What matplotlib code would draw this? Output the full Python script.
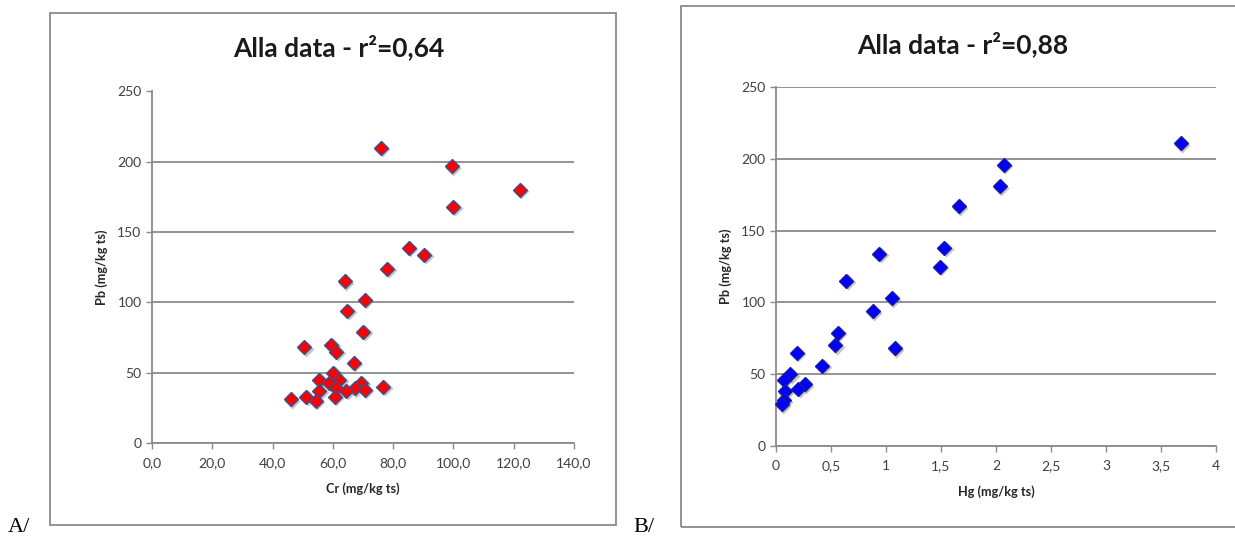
import matplotlib
matplotlib.use("Agg")
import matplotlib.pyplot as plt
import matplotlib.transforms as mtransforms
from matplotlib.patches import Rectangle
from matplotlib.ticker import FuncFormatter

# Cr mot Pb (mg/kg ts)
cr = [75.9, 99.5, 122.0, 100.0, 85.2, 90.4, 78.0, 64.0, 70.6, 64.8, 70.0,
      50.5, 59.5, 61.2, 66.9, 60.1, 55.5, 62.1, 58.8, 69.5, 67.3, 64.4,
      70.6, 61.0, 55.5, 76.7, 46.0, 51.1, 60.7, 54.4]
pb_a = [210, 197, 180, 168, 139, 134, 124, 115, 102, 94, 79,
        68, 70, 65, 57, 50, 45, 45, 43, 43, 39, 37,
        38, 39, 37, 40, 31, 33, 33, 30]

# Hg mot Pb (mg/kg ts)
hg = [3.68, 2.07, 2.035, 1.66, 1.53, 1.49, 0.94, 0.64, 1.05, 0.88, 1.08,
      0.56, 0.54, 0.42, 0.19, 0.13, 0.26, 0.07, 0.20, 0.08, 0.07, 0.05]
pb_b = [211, 196, 181, 167, 138, 125, 134, 115, 103, 94, 68,
        79, 70, 56, 65, 50, 43, 46, 40, 38, 32, 29]

titles = ["Alla data - r\u00b2=0,64", "Alla data - r\u00b2=0,88"]
xlabels = ["Cr (mg/kg ts)", "Hg (mg/kg ts)"]
ylabel = "Pb (mg/kg ts)"
yticks = [0, 50, 100, 150, 200, 250]
xticks_a = [0, 20, 40, 60, 80, 100, 120, 140]
xticks_b = [0, 0.5, 1, 1.5, 2, 2.5, 3, 3.5, 4]

plt.rcParams['font.family'] = ['Lato', 'DejaVu Sans']

fig = plt.figure(figsize=(12.35, 5.42), dpi=100)
W, H = 1235, 542

def px_rect(x0, y0, x1, y1):
    return Rectangle((x0 / W, 1 - y1 / H), (x1 - x0) / W, (y1 - y0) / H,
                     transform=fig.transFigure, fill=False,
                     edgecolor="#8a8a8a", linewidth=1.3)

# Kartramar
fig.patches.append(px_rect(50, 13, 616, 525))
fig.patches.append(px_rect(681, 6, 1240, 527))

ax_a = fig.add_axes([152 / W, 1 - 443 / H, 422 / W, 351.5 / H])
ax_b = fig.add_axes([776 / W, 1 - 446 / H, 440 / W, 359 / H])

def style(ax, xlim, xticks, fmt):
    ax.set_xlim(xlim)
    ax.set_ylim(0, 250)
    ax.set_xticks(xticks)
    ax.set_yticks(yticks)
    ax.xaxis.set_major_formatter(FuncFormatter(fmt))
    for s in ["top", "right"]:
        ax.spines[s].set_visible(False)
    for s in ["left", "bottom"]:
        ax.spines[s].set_color("#8a8a8a")
        ax.spines[s].set_linewidth(1.3)
    ax.grid(axis="y", color="#8a8a8a", linewidth=1.3)
    ax.set_axisbelow(True)
    ax.tick_params(colors="#8a8a8a", labelcolor="#404040", labelsize=10,
                   length=4, width=1.0)
    ax.tick_params(axis="x", pad=6)

def scatter(ax, x, y, face, edge):
    shadow = mtransforms.offset_copy(ax.transData, fig=fig, x=1.5, y=-1.5, units="dots")
    ax.plot(x, y, "D", ms=7.8, color="#7f7f7f", alpha=0.45, mec="none",
            transform=shadow, clip_on=False, zorder=2)
    ax.plot(x, y, "D", ms=7.2, mfc=face, mec=edge, mew=1.0,
            linestyle="none", clip_on=False, zorder=3)

style(ax_a, (0, 140), xticks_a, lambda v, p: f"{v:.1f}".replace(".", ","))
style(ax_b, (0, 4), xticks_b, lambda v, p: f"{v:g}".replace(".", ","))

scatter(ax_a, cr, pb_a, "#ff0000", "#3b4f8f")
scatter(ax_b, hg, pb_b, "#0000ff", "#1a1aa0")

for ax, xl in [(ax_a, xlabels[0]), (ax_b, xlabels[1])]:
    ax.set_xlabel(xl, fontsize=9.2, fontweight="bold", color="#262626", labelpad=10)
    ax.set_ylabel(ylabel, fontsize=9.2, fontweight="bold", color="#262626", labelpad=7)

fig.text(339 / W, 1 - 47 / H, titles[0], ha="center", va="center",
         fontsize=19, fontweight="bold", color="#1a1a1a")
fig.text(963 / W, 1 - 44 / H, titles[1], ha="center", va="center",
         fontsize=19, fontweight="bold", color="#1a1a1a")

fig.text(8 / W, 1 - 527 / H, "A/", fontsize=16, family="Liberation Serif",
         ha="left", va="center", color="black")
fig.text(633 / W, 1 - 527 / H, "B/", fontsize=16, family="Liberation Serif",
         ha="left", va="center", color="black")

fig.savefig("out.png", dpi=100)
